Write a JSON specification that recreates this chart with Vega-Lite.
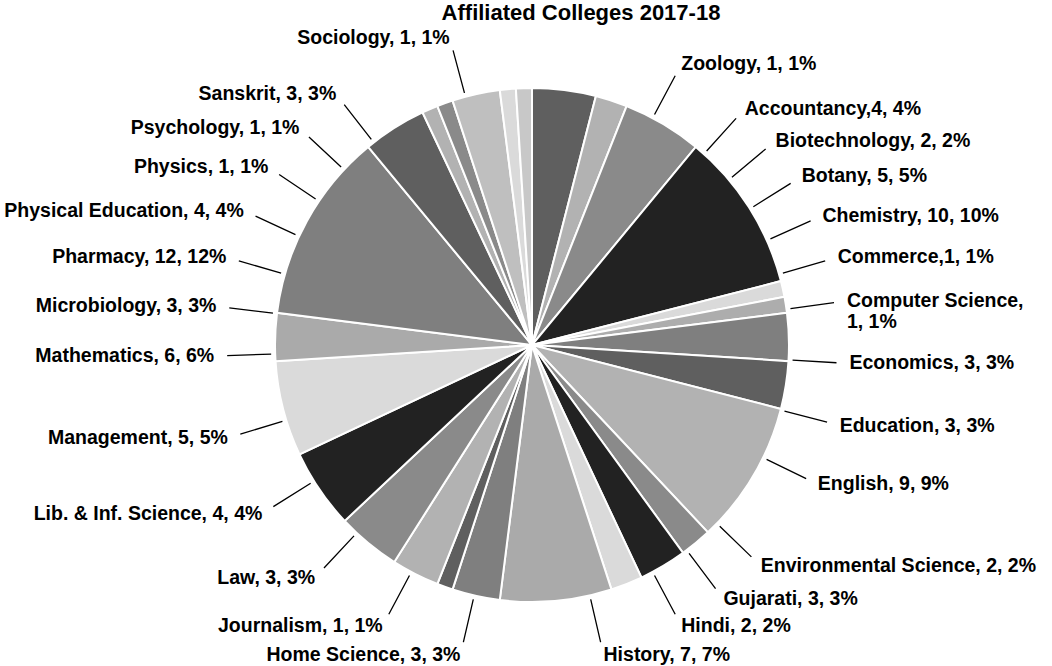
{
  "$schema": "https://vega.github.io/schema/vega-lite/v6.json",
  "width": 1040,
  "height": 642,
  "autosize": "none",
  "padding": {"left": 12, "top": 24, "right": 0, "bottom": 0},
  "background": "#ffffff",
  "title": {
    "text": "Affiliated Colleges 2017-18",
    "font": "Liberation Sans",
    "fontSize": 22,
    "fontWeight": "bold",
    "color": "#000000",
    "offset": -1,
    "dx": 49
  },
  "data": {
    "values": [
      {"name": "Accountancy", "count": 4, "label": "Accountancy,4, 4%"},
      {"name": "Biotechnology", "count": 2, "label": "Biotechnology, 2, 2%"},
      {"name": "Botany", "count": 5, "label": "Botany, 5, 5%"},
      {"name": "Chemistry", "count": 10, "label": "Chemistry, 10, 10%"},
      {"name": "Commerce", "count": 1, "label": "Commerce,1, 1%"},
      {"name": "Computer Science", "count": 1, "label": "Computer Science,\n1, 1%"},
      {"name": "Economics", "count": 3, "label": "Economics, 3, 3%"},
      {"name": "Education", "count": 3, "label": "Education, 3, 3%"},
      {"name": "English", "count": 9, "label": "English, 9, 9%"},
      {"name": "Environmental Science", "count": 2, "label": "Environmental Science, 2, 2%"},
      {"name": "Gujarati", "count": 3, "label": "Gujarati, 3, 3%"},
      {"name": "Hindi", "count": 2, "label": "Hindi, 2, 2%"},
      {"name": "History", "count": 7, "label": "History, 7, 7%"},
      {"name": "Home Science", "count": 3, "label": "Home Science, 3, 3%"},
      {"name": "Journalism", "count": 1, "label": "Journalism, 1, 1%"},
      {"name": "Law", "count": 3, "label": "Law, 3, 3%"},
      {"name": "Lib. & Inf. Science", "count": 4, "label": "Lib. & Inf. Science, 4, 4%"},
      {"name": "Management", "count": 5, "label": "Management, 5, 5%"},
      {"name": "Mathematics", "count": 6, "label": "Mathematics, 6, 6%"},
      {"name": "Microbiology", "count": 3, "label": "Microbiology, 3, 3%"},
      {"name": "Pharmacy", "count": 12, "label": "Pharmacy, 12, 12%"},
      {"name": "Physical Education", "count": 4, "label": "Physical Education, 4, 4%"},
      {"name": "Physics", "count": 1, "label": "Physics, 1, 1%"},
      {"name": "Psychology", "count": 1, "label": "Psychology, 1, 1%"},
      {"name": "Sanskrit", "count": 3, "label": "Sanskrit, 3, 3%"},
      {"name": "Sociology", "count": 1, "label": "Sociology, 1, 1%"},
      {"name": "Zoology", "count": 1, "label": "Zoology, 1, 1%"}
    ]
  },
  "transform": [{"window": [{"op": "row_number", "as": "idx"}]}],
  "layer": [
    {
      "mark": {"type": "arc", "outerRadius": 257, "stroke": "#ffffff", "strokeWidth": 2},
      "encoding": {
        "theta": {"field": "count", "type": "quantitative", "stack": true},
        "order": {"field": "idx", "type": "quantitative"},
        "color": {
          "field": "name",
          "type": "nominal",
          "legend": null,
          "scale": {
            "domain": ["Accountancy", "Biotechnology", "Botany", "Chemistry", "Commerce", "Computer Science", "Economics", "Education", "English", "Environmental Science", "Gujarati", "Hindi", "History", "Home Science", "Journalism", "Law", "Lib. & Inf. Science", "Management", "Mathematics", "Microbiology", "Pharmacy", "Physical Education", "Physics", "Psychology", "Sanskrit", "Sociology", "Zoology"],
            "range": ["#5f5f5f", "#b2b2b2", "#8a8a8a", "#222222", "#dadada", "#adadad", "#7f7f7f", "#5f5f5f", "#b2b2b2", "#8a8a8a", "#222222", "#dadada", "#aaaaaa", "#7f7f7f", "#5f5f5f", "#b2b2b2", "#8a8a8a", "#222222", "#dadada", "#aaaaaa", "#7f7f7f", "#5f5f5f", "#b2b2b2", "#8a8a8a", "#bfbfbf", "#dadada", "#c8c8c8"]
          }
        }
      }
    },
    {
      "mark": {"type": "arc", "innerRadius": 261, "outerRadius": 305, "filled": false, "stroke": "#000000", "strokeWidth": 1.3},
      "encoding": {
        "theta": {"field": "idx", "type": "quantitative", "stack": null,
          "scale": {"domain": [1, 6, 9, 10, 12, 13, 14, 19, 25, 26, 27], "range": [0.7330, 1.4312, 2.0246, 2.3387, 2.6529, 2.9147, 3.3685, 4.6775, 5.6200, 6.0214, 6.7719]}},
        "theta2": {"field": "idx"}
      }
    },
    {
      "transform": [{"filter": "datum.idx <= 13 || datum.idx == 27"}],
      "mark": {"type": "text", "radius": 318, "align": "left", "baseline": "middle", "font": "Liberation Sans", "fontSize": 19.5, "fontWeight": "bold", "color": "#000000", "lineBreak": "\n"},
      "encoding": {
        "theta": {"field": "idx", "type": "quantitative", "stack": null,
          "scale": {"domain": [1, 6, 9, 10, 12, 13, 14, 19, 25, 26, 27], "range": [0.7330, 1.4312, 2.0246, 2.3387, 2.6529, 2.9147, 3.3685, 4.6775, 5.6200, 6.0214, 6.7719]}},
        "text": {"field": "label"}
      }
    },
    {
      "transform": [{"filter": "datum.idx >= 14 && datum.idx <= 26"}],
      "mark": {"type": "text", "radius": 318, "align": "right", "baseline": "middle", "font": "Liberation Sans", "fontSize": 19.5, "fontWeight": "bold", "color": "#000000"},
      "encoding": {
        "theta": {"field": "idx", "type": "quantitative", "stack": null,
          "scale": {"domain": [1, 6, 9, 10, 12, 13, 14, 19, 25, 26, 27], "range": [0.7330, 1.4312, 2.0246, 2.3387, 2.6529, 2.9147, 3.3685, 4.6775, 5.6200, 6.0214, 6.7719]}},
        "text": {"field": "label"}
      }
    }
  ],
  "resolve": {"scale": {"theta": "independent"}},
  "config": {"view": {"stroke": null}}
}
